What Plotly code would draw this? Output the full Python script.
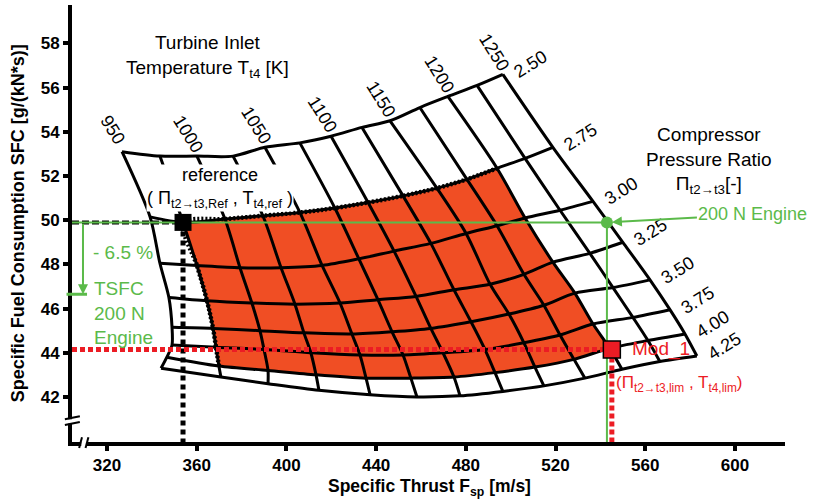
import plotly.graph_objects as go

# ---------------- data ----------------
PR = [2.50, 2.75, 3.00, 3.25, 3.50, 3.75, 4.00, 4.25]
T4 = [950, 975, 1000, 1025, 1050, 1075, 1100, 1125, 1150, 1175, 1200, 1225, 1250]

# specific thrust [m/s] of each carpet node, one list per pressure ratio (columns = T4)
FSP = [
    [326.7, 343.6, 360.1, 376.2, 390.4, 406.0, 419.9, 433.7, 446.2, 459.5, 472.0, 485.0, 496.5],
    [339.2, 353.9, 372.6, 389.5, 406.0, 421.6, 436.4, 452.0, 467.1, 480.5, 493.9, 506.4, 518.8],
    [343.6, 360.1, 379.3, 397.6, 415.9, 432.3, 448.0, 464.4, 480.1, 493.9, 506.4, 522.0, 536.7],
    [347.6, 364.6, 384.6, 403.8, 423.9, 440.8, 457.8, 474.7, 490.8, 505.9, 518.8, 535.3, 550.0],
    [349.0, 367.3, 388.2, 407.8, 429.2, 447.1, 464.4, 482.3, 499.2, 514.8, 528.6, 545.6, 562.1],
    [349.0, 368.6, 390.0, 410.9, 432.8, 452.0, 469.8, 488.5, 505.9, 522.0, 536.7, 554.5, 571.0],
    [346.7, 369.9, 391.8, 413.2, 435.5, 455.5, 474.7, 493.0, 510.8, 528.2, 544.2, 561.2, 577.7],
    [344.1, 370.8, 391.8, 414.5, 437.3, 458.2, 477.4, 496.5, 514.8, 533.1, 549.6, 566.5, 583.0],
]
# specific fuel consumption [g/(kN*s)] of each carpet node
SFC = [
    [53.10, 52.90, 52.90, 52.90, 53.30, 53.50, 53.80, 54.20, 54.50, 55.10, 55.60, 56.10, 56.60],
    [50.15, 49.90, 50.05, 50.20, 50.35, 50.55, 50.80, 51.10, 51.45, 51.85, 52.35, 52.80, 53.30],
    [48.05, 47.95, 47.85, 47.85, 47.95, 48.25, 48.60, 48.95, 49.40, 49.75, 50.10, 50.45, 50.85],
    [46.50, 46.35, 46.25, 46.20, 46.25, 46.40, 46.55, 46.85, 47.10, 47.55, 48.10, 48.50, 49.00],
    [45.15, 45.10, 45.00, 44.90, 44.85, 44.95, 45.10, 45.40, 45.75, 46.15, 46.70, 46.95, 47.30],
    [44.35, 44.25, 44.15, 44.00, 43.90, 43.90, 44.00, 44.15, 44.45, 44.80, 45.30, 45.60, 45.95],
    [43.80, 43.40, 43.20, 43.00, 42.85, 42.85, 42.90, 43.10, 43.35, 43.70, 44.20, 44.55, 44.85],
    [43.30, 42.90, 42.60, 42.30, 42.10, 42.00, 42.05, 42.25, 42.50, 42.85, 43.25, 43.60, 43.85],
]

T4_LABELS = [950, 1000, 1050, 1100, 1150, 1200, 1250]
PR_LABELS = ["2.50", "2.75", "3.00", "3.25", "3.50", "3.75", "4.00", "4.25"]

# feasible design space: T4 975..1200, PR 2.75..4.00
FEAS_T4 = (975, 1200)
FEAS_PR = (2.75, 4.00)

REF_POINT = (353.9, 49.9)        # reference design
ENGINE_200N = (542.9, 49.9)      # 200 N engine
TSFC_200N = 46.65                # -6.5 %
MOD1_POINT = (545.1, 44.15)      # Mod_1

X_TICKS = [320, 360, 400, 440, 480, 520, 560, 600]
Y_TICKS = [42, 44, 46, 48, 50, 52, 54, 56, 58]
X_RANGE = [304.4, 622.3]
Y_RANGE = [39.96, 59.74]

# ---------------- styles ----------------
FONT = "Liberation Sans, Arial, sans-serif"
ORANGE = "#F04E24"
GREEN = "#5BBA4A"
RED = "#EC1C24"
BLACK = "#000000"

fig = go.Figure()

# feasible (orange) area
c0, c1 = T4.index(FEAS_T4[0]), T4.index(FEAS_T4[1])
r0, r1 = PR.index(FEAS_PR[0]), PR.index(FEAS_PR[1])
fx, fy = [], []
for c in range(c0, c1 + 1):
    fx.append(FSP[r0][c]); fy.append(SFC[r0][c])
for r in range(r0 + 1, r1 + 1):
    fx.append(FSP[r][c1]); fy.append(SFC[r][c1])
for c in range(c1 - 1, c0 - 1, -1):
    fx.append(FSP[r1][c]); fy.append(SFC[r1][c])
for r in range(r1 - 1, r0 - 1, -1):
    fx.append(FSP[r][c0]); fy.append(SFC[r][c0])
fig.add_trace(go.Scatter(x=fx, y=fy, mode="lines", fill="toself", fillcolor=ORANGE,
                         line=dict(width=0, color=ORANGE), hoverinfo="skip", showlegend=False))

# dotted border of feasible area (left + top)
bx = [FSP[r][c0] for r in range(r1, r0, -1)] + [FSP[r0][c] for c in range(c0, c1 + 1)]
by = [SFC[r][c0] for r in range(r1, r0, -1)] + [SFC[r0][c] for c in range(c0, c1 + 1)]
fig.add_trace(go.Scatter(x=bx, y=by, mode="lines",
                         line=dict(color=BLACK, width=4.5, dash="2px,2px", shape="spline", smoothing=0.8),
                         hoverinfo="skip", showlegend=False))

# carpet grid: lines of constant pressure ratio
for r in range(len(PR)):
    fig.add_trace(go.Scatter(x=FSP[r], y=SFC[r], mode="lines",
                             line=dict(color=BLACK, width=3, shape="spline", smoothing=0.8),
                             hoverinfo="skip", showlegend=False))
# carpet grid: lines of constant turbine inlet temperature
for c in range(len(T4)):
    fig.add_trace(go.Scatter(x=[FSP[r][c] for r in range(len(PR))],
                             y=[SFC[r][c] for r in range(len(PR))], mode="lines",
                             line=dict(color=BLACK, width=3, shape="spline", smoothing=0.8),
                             hoverinfo="skip", showlegend=False))

# reference guide lines
fig.add_trace(go.Scatter(x=[X_RANGE[0], REF_POINT[0]], y=[REF_POINT[1]] * 2, mode="lines",
                         line=dict(color=BLACK, width=4, dash="7px,3px"), hoverinfo="skip", showlegend=False))
fig.add_trace(go.Scatter(x=[REF_POINT[0]] * 2, y=[REF_POINT[1], Y_RANGE[0]], mode="lines",
                         line=dict(color=BLACK, width=5, dash="5px,4px"), hoverinfo="skip", showlegend=False))
# Mod_1 guide lines
fig.add_trace(go.Scatter(x=[X_RANGE[0], MOD1_POINT[0]], y=[MOD1_POINT[1]] * 2, mode="lines",
                         line=dict(color=RED, width=5, dash="5px,3px"), hoverinfo="skip", showlegend=False))
fig.add_trace(go.Scatter(x=[MOD1_POINT[0]] * 2, y=[MOD1_POINT[1], Y_RANGE[0]], mode="lines",
                         line=dict(color=RED, width=5, dash="5px,3px"), hoverinfo="skip", showlegend=False))
# 200 N engine guide lines
fig.add_trace(go.Scatter(x=[X_RANGE[0], ENGINE_200N[0]], y=[ENGINE_200N[1]] * 2, mode="lines",
                         line=dict(color=GREEN, width=2), hoverinfo="skip", showlegend=False))
fig.add_trace(go.Scatter(x=[ENGINE_200N[0]] * 2, y=[ENGINE_200N[1], Y_RANGE[0]], mode="lines",
                         line=dict(color=GREEN, width=2), hoverinfo="skip", showlegend=False))

# markers
fig.add_trace(go.Scatter(x=[REF_POINT[0]], y=[REF_POINT[1]], mode="markers",
                         marker=dict(symbol="square", size=17, color=BLACK), hoverinfo="skip", showlegend=False))
fig.add_trace(go.Scatter(x=[MOD1_POINT[0]], y=[MOD1_POINT[1]], mode="markers",
                         marker=dict(symbol="square", size=17, color=RED, line=dict(color=BLACK, width=1.5)),
                         hoverinfo="skip", showlegend=False))
fig.add_trace(go.Scatter(x=[ENGINE_200N[0]], y=[ENGINE_200N[1]], mode="markers",
                         marker=dict(symbol="circle", size=12, color=GREEN), hoverinfo="skip", showlegend=False))

ann = []
# T4 labels along the top edge
for v in T4_LABELS:
    c = T4.index(v)
    ann.append(dict(x=FSP[0][c], y=SFC[0][c], text=str(v), showarrow=False, textangle=58,
                    xshift=-9, yshift=22, font=dict(size=18, color=BLACK, family=FONT)))
# PR labels along the right edge
for r, lab in enumerate(PR_LABELS):
    ann.append(dict(x=FSP[r][-1], y=SFC[r][-1], text=lab, showarrow=False, textangle=-32,
                    xshift=28, yshift=10, font=dict(size=18, color=BLACK, family=FONT)))

ann += [
    dict(x=365.0, y=57.4, text="Turbine Inlet<br>Temperature T<sub>t4</sub> [K]", showarrow=False,
         align="center", font=dict(size=19, color=BLACK, family=FONT)),
    dict(x=588.4, y=52.7, text="Compressor<br>Pressure Ratio<br>Π<sub>t2→t3</sub>[-]", showarrow=False,
         align="center", font=dict(size=19, color=BLACK, family=FONT)),
    dict(x=370.4, y=51.45, text="reference<br>( Π<sub>t2→t3,Ref</sub> , T<sub>t4,ref</sub> )", showarrow=False,
         align="center", bgcolor="white", borderpad=0, font=dict(size=18, color=BLACK, family=FONT)),
    dict(x=327.1, y=48.56, text="- 6.5 %", showarrow=False,
         font=dict(size=19, color=GREEN, family=FONT)),
    dict(x=313.5, y=45.8, text="TSFC<br>200 N<br>Engine", showarrow=False, xanchor="left", align="left",
         font=dict(size=19, color=GREEN, family=FONT)),
    dict(x=553.0, y=44.15, text="Mod_1", showarrow=False, xanchor="left",
         font=dict(size=19, color=RED, family=FONT)),
    dict(x=546.0, y=42.6, text="(Π<sub>t2→t3,lim</sub> , T<sub>t4,lim</sub>)", showarrow=False, xanchor="left",
         font=dict(size=17, color=RED, family=FONT)),
    # arrow -6.5 %
    dict(x=309.3, y=TSFC_200N, ax=309.3, ay=REF_POINT[1], axref="x", ayref="y", xref="x", yref="y",
         text="", showarrow=True, arrowhead=2, arrowsize=1, arrowwidth=2, arrowcolor=GREEN),
    dict(x=311.1, y=TSFC_200N, ax=-22, ay=0, text="", showarrow=True, arrowhead=0, arrowwidth=3,
         arrowcolor=GREEN),
    # 200 N Engine label with arrow
    dict(x=ENGINE_200N[0], y=ENGINE_200N[1], ax=146, ay=-8, text="200 N Engine", showarrow=True,
         arrowhead=2, arrowsize=1, arrowwidth=2, arrowcolor=GREEN, standoff=5,
         font=dict(size=18, color=GREEN, family=FONT)),
    # axis titles
    dict(x=0.502, y=-0.105, xref="paper", yref="paper", text="Specific Thrust F<sub>sp</sub> [m/s]",
         showarrow=False, yanchor="middle", font=dict(size=17.5, color=BLACK, family=FONT, weight="bold")),
    dict(x=-0.076, y=0.50, xref="paper", yref="paper", text="Specific Fuel Consumption SFC [g/(kN*s)]",
         showarrow=False, textangle=-90, xanchor="center", yanchor="middle",
         font=dict(size=18, color=BLACK, family=FONT, weight="bold")),
]

# axis break marks
shapes = [
    dict(type="rect", xref="paper", yref="paper", x0=-0.009, x1=0.01, y0=0.042, y1=0.052,
         fillcolor="white", line=dict(width=0), layer="above"),
    dict(type="line", xref="paper", yref="paper", x0=-0.010, y0=0.052, x1=0.011, y1=0.059,
         line=dict(color=BLACK, width=2), layer="above"),
    dict(type="line", xref="paper", yref="paper", x0=-0.010, y0=0.039, x1=0.011, y1=0.046,
         line=dict(color=BLACK, width=2), layer="above"),
    dict(type="rect", xref="paper", yref="paper", x0=0.013, x1=0.021, y0=-0.016, y1=0.006,
         fillcolor="white", line=dict(width=0), layer="above"),
    dict(type="line", xref="paper", yref="paper", x0=0.010, y0=-0.014, x1=0.014, y1=0.011,
         line=dict(color=BLACK, width=2), layer="above"),
    dict(type="line", xref="paper", yref="paper", x0=0.019, y0=-0.014, x1=0.023, y1=0.011,
         line=dict(color=BLACK, width=2), layer="above"),
]

fig.update_layout(
    width=815, height=499,
    margin=dict(l=72, r=30, t=5, b=57, autoexpand=False),
    paper_bgcolor="white", plot_bgcolor="white",
    font=dict(family=FONT, color=BLACK),
    annotations=ann, shapes=shapes, showlegend=False,
    xaxis=dict(range=X_RANGE, tickvals=X_TICKS, showgrid=False, zeroline=False, automargin=False,
               showline=True, linewidth=4, linecolor=BLACK, ticks="outside", ticklen=5, tickwidth=4,
               tickcolor=BLACK, tickfont=dict(size=17, family=FONT, color=BLACK, weight="bold")),
    yaxis=dict(range=Y_RANGE, tickvals=Y_TICKS, showgrid=False, zeroline=False, automargin=False,
               showline=True, linewidth=4, linecolor=BLACK, ticks="outside", ticklen=5, tickwidth=4,
               tickcolor=BLACK, tickfont=dict(size=17, family=FONT, color=BLACK, weight="bold")),
)

fig.write_html("out.html", config={"displayModeBar": False},
               post_script="document.body.style.margin='0';document.body.style.overflow='hidden';")
